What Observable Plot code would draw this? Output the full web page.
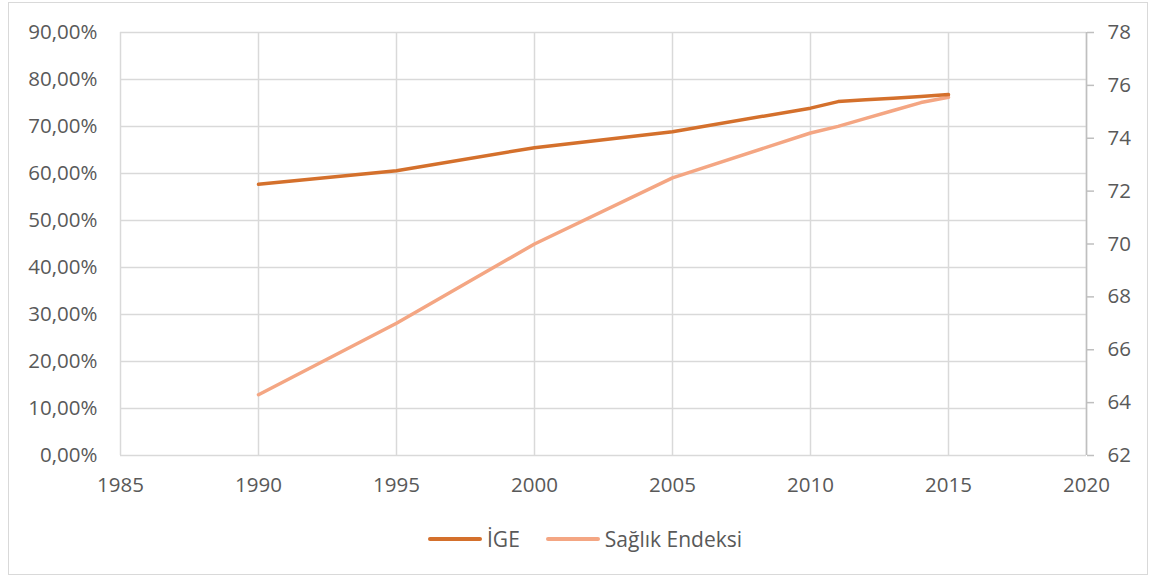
<!DOCTYPE html>
<html><head><meta charset="utf-8">
<script src="https://cdn.jsdelivr.net/npm/d3@7"></script>
<script src="https://cdn.jsdelivr.net/npm/@observablehq/plot@0.6"></script>
<style>
body{margin:0;background:#fff;font-family:"Open Sans",sans-serif;width:1155px;height:579px;overflow:hidden;position:relative;}
#frame{position:absolute;left:8px;top:2px;width:1140px;height:573px;border:1px solid #d9d9d9;box-sizing:border-box;}
#chart{position:absolute;left:0;top:0;}
#legend{position:absolute;top:524px;left:428px;display:flex;align-items:center;height:30px;font-size:21px;color:#595959;}
.sw{display:inline-block;width:54px;height:3.5px;border-radius:2px;margin-right:5px;}
.item{display:flex;align-items:center;}
</style></head>
<body>
<div id="frame"></div>
<div id="chart"></div>
<div id="legend"></div>
<script>
const years   = [1990, 1995, 2000, 2005, 2010, 2011, 2012, 2013, 2014, 2015];
const ige     = [0.577, 0.606, 0.655, 0.689, 0.739, 0.753, 0.757, 0.760, 0.764, 0.768];
const saglik  = [64.3, 67.0, 70.0, 72.5, 74.2, 74.45, 74.75, 75.05, 75.35, 75.55];
const xTicks  = [1985, 1990, 1995, 2000, 2005, 2010, 2015, 2020];
const yTicks  = [0, 0.1, 0.2, 0.3, 0.4, 0.5, 0.6, 0.7, 0.8, 0.9];
const rTicks  = [62, 64, 66, 68, 70, 72, 74, 76, 78];
const seriesNames = ["İGE", "Sağlık Endeksi"];
const colors = ["#d4702c", "#f4a683"];

const rMin = 62, rMax = 78, lMax = 0.9;
const toLeft = v => (v - rMin) / (rMax - rMin) * lMax;

const igeData = years.map((y, i) => ({year: y, v: ige[i]}));
const sagData = years.map((y, i) => ({year: y, v: saglik[i]}));

const grid = {stroke: "#d9d9d9", strokeOpacity: 1, strokeWidth: 1.5};

const chart = Plot.plot({
  width: 1155, height: 505,
  marginLeft: 120, marginRight: 69, marginTop: 32, marginBottom: 50,
  style: {fontFamily: "'Open Sans', sans-serif", fontSize: "20.5px", color: "#595959", background: "transparent"},
  x: {domain: [1985, 2020]},
  y: {domain: [0, lMax]},
  marks: [
    Plot.gridX(xTicks, grid),
    Plot.gridY(yTicks, grid),
    Plot.axisX(xTicks, {tickSize: 0, tickPadding: 22, tickFormat: d => String(d), label: null, fill: "#595959"}),
    Plot.axisY(yTicks, {tickSize: 0, tickPadding: 23, label: null, fill: "#595959",
      tickFormat: d => (d * 100).toFixed(2).replace(".", ",") + "%"}),
    Plot.ruleX([2020], {stroke: "#bfbfbf", strokeWidth: 1.5}),
    Plot.axisY(rTicks.map(toLeft), {anchor: "right", tickSize: 7, tickPadding: 14, label: null,
      stroke: "#bfbfbf", fill: "#595959", strokeWidth: 1.5,
      tickFormat: d => String(Math.round(d / lMax * (rMax - rMin) + rMin))}),
    Plot.line(sagData, {x: "year", y: d => toLeft(d.v), stroke: colors[1], strokeWidth: 3.5, strokeLinecap: "round", strokeLinejoin: "round"}),
    Plot.line(igeData, {x: "year", y: "v", stroke: colors[0], strokeWidth: 3.5, strokeLinecap: "round", strokeLinejoin: "round"})
  ]
});
document.getElementById("chart").append(chart);

const leg = document.getElementById("legend");
seriesNames.forEach((n, i) => {
  const it = document.createElement("div");
  it.className = "item";
  it.style.marginRight = i === 0 ? "26px" : "0";
  const sw = document.createElement("span");
  sw.className = "sw"; sw.style.background = colors[i];
  const t = document.createElement("span");
  t.textContent = n;
  it.append(sw, t);
  leg.append(it);
});
</script>
</body></html>
